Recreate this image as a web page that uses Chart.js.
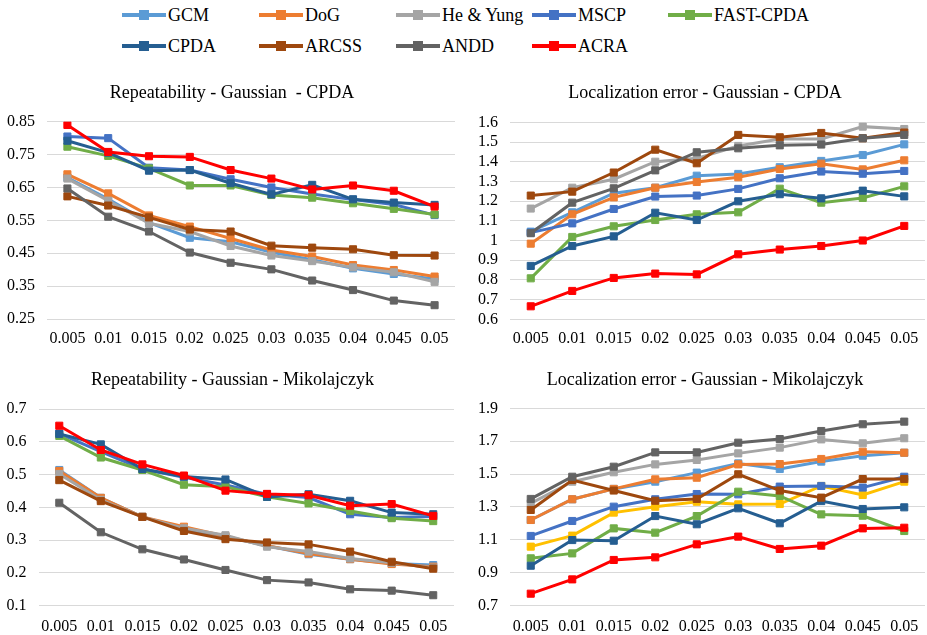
<!DOCTYPE html>
<html>
<head>
<meta charset="utf-8">
<script src="https://cdn.jsdelivr.net/npm/chart.js@4"></script>
<style>
body { margin:0; background:#fff; width:927px; height:635px; position:relative; overflow:hidden;
       font-family:'Liberation Serif','Times New Roman',serif; }
.box { position:absolute; }
#legend { position:absolute; left:0; top:0; width:927px; height:70px; }
.item { position:absolute; font-size:18px; line-height:20px; color:#000; white-space:nowrap; }
.item .ln { position:absolute; left:0; top:8px; width:44px; height:4px; }
.item .mk { position:absolute; left:17px; top:5px; width:10px; height:10px; }
.item .tx { position:absolute; left:46px; top:0; }
</style>
</head>
<body>
<div id="legend"></div>
<!-- the right hand canvases run past the window edge so their titles centre where the reference has them -->
<div class="box" style="left:0;top:75px;width:464px;height:275px"><canvas id="c1"></canvas></div>
<div class="box" style="left:465px;top:75px;width:480px;height:275px"><canvas id="c2"></canvas></div>
<div class="box" style="left:0;top:360px;width:465px;height:275px"><canvas id="c3"></canvas></div>
<div class="box" style="left:465px;top:360px;width:480px;height:275px"><canvas id="c4"></canvas></div>
<script>
var noise = ["0.005", "0.01", "0.015", "0.02", "0.025", "0.03", "0.035", "0.04", "0.045", "0.05"];

var names = ["GCM", "DoG", "He & Yung", "MSCP", "FAST-CPDA", "CPDA", "ARCSS", "ANDD", "ACRA"];
var colors = ["#5B9BD5", "#ED7D31", "#A5A5A5", "#4472C4", "#70AD47", "#255E91", "#9E480E", "#636363", "#FF0000"];

// Repeatability - Gaussian - CPDA
var rep_cpda_gcm   = [0.68, 0.615, 0.543, 0.497, 0.485, 0.453, 0.43, 0.404, 0.387, 0.372];
var rep_cpda_dog   = [0.69, 0.632, 0.565, 0.531, 0.495, 0.46, 0.44, 0.414, 0.399, 0.379];
var rep_cpda_he    = [0.677, 0.61, 0.541, 0.516, 0.472, 0.443, 0.426, 0.407, 0.392, 0.363];
var rep_cpda_mscp  = [0.805, 0.8, 0.71, 0.703, 0.675, 0.65, 0.63, 0.613, 0.598, 0.566];
var rep_cpda_fast  = [0.774, 0.746, 0.708, 0.656, 0.656, 0.627, 0.619, 0.602, 0.585, 0.568];
var rep_cpda_cpda  = [0.792, 0.756, 0.701, 0.703, 0.663, 0.629, 0.658, 0.614, 0.604, 0.597];
var rep_cpda_arcss = [0.623, 0.595, 0.559, 0.522, 0.516, 0.473, 0.467, 0.462, 0.444, 0.443];
var rep_cpda_andd  = [0.647, 0.561, 0.516, 0.452, 0.421, 0.401, 0.367, 0.338, 0.306, 0.292];
var rep_cpda_acra  = [0.84, 0.758, 0.745, 0.743, 0.703, 0.677, 0.644, 0.656, 0.64, 0.592];
var rep_cpda_ticks = [0.25, 0.35, 0.45, 0.55, 0.65, 0.75, 0.85];

// Localization error - Gaussian - CPDA
var loc_cpda_gcm   = [1.045, 1.143, 1.24, 1.268, 1.329, 1.338, 1.372, 1.404, 1.434, 1.488];
var loc_cpda_dog   = [0.984, 1.133, 1.219, 1.268, 1.297, 1.321, 1.363, 1.39, 1.361, 1.407];
var loc_cpda_he    = [1.162, 1.268, 1.311, 1.4, 1.417, 1.48, 1.515, 1.515, 1.578, 1.566];
var loc_cpda_mscp  = [1.04, 1.087, 1.16, 1.223, 1.228, 1.262, 1.316, 1.35, 1.339, 1.353];
var loc_cpda_fast  = [0.808, 1.018, 1.072, 1.104, 1.133, 1.143, 1.263, 1.192, 1.216, 1.275];
var loc_cpda_cpda  = [0.871, 0.972, 1.021, 1.141, 1.104, 1.199, 1.235, 1.214, 1.253, 1.224];
var loc_cpda_arcss = [1.228, 1.248, 1.345, 1.461, 1.392, 1.536, 1.524, 1.546, 1.519, 1.548];
var loc_cpda_andd  = [1.037, 1.192, 1.265, 1.356, 1.448, 1.468, 1.483, 1.487, 1.519, 1.536];
var loc_cpda_acra  = [0.666, 0.744, 0.81, 0.832, 0.828, 0.93, 0.954, 0.972, 1.0, 1.074];
var loc_cpda_ticks = [0.6, 0.7, 0.8, 0.9, 1, 1.1, 1.2, 1.3, 1.4, 1.5, 1.6];

// Repeatability - Gaussian - Mikolajczyk
var rep_miko_gcm   = [0.514, 0.429, 0.371, 0.334, 0.31, 0.283, 0.257, 0.242, 0.229, 0.224];
var rep_miko_dog   = [0.511, 0.429, 0.371, 0.341, 0.312, 0.283, 0.259, 0.242, 0.227, 0.219];
var rep_miko_he    = [0.502, 0.423, 0.371, 0.336, 0.315, 0.28, 0.265, 0.244, 0.231, 0.216];
var rep_miko_mscp  = [0.625, 0.57, 0.517, 0.492, 0.468, 0.44, 0.43, 0.379, 0.369, 0.372];
var rep_miko_fast  = [0.618, 0.552, 0.514, 0.469, 0.463, 0.432, 0.412, 0.389, 0.367, 0.358];
var rep_miko_cpda  = [0.624, 0.592, 0.517, 0.494, 0.485, 0.432, 0.44, 0.42, 0.384, 0.379];
var rep_miko_arcss = [0.483, 0.419, 0.371, 0.328, 0.303, 0.293, 0.287, 0.265, 0.234, 0.213];
var rep_miko_andd  = [0.414, 0.324, 0.272, 0.241, 0.209, 0.178, 0.171, 0.15, 0.146, 0.132];
var rep_miko_acra  = [0.649, 0.575, 0.531, 0.497, 0.451, 0.441, 0.437, 0.405, 0.41, 0.374];
var rep_miko_ticks = [0.1, 0.2, 0.3, 0.4, 0.5, 0.6, 0.7];

// Localization error - Gaussian - Mikolajczyk (has an extra unlabelled yellow series)
var loc_miko_gcm    = [1.221, 1.347, 1.41, 1.454, 1.509, 1.565, 1.531, 1.576, 1.612, 1.63];
var loc_miko_dog    = [1.221, 1.347, 1.41, 1.468, 1.478, 1.559, 1.561, 1.592, 1.636, 1.63];
var loc_miko_he     = [1.322, 1.454, 1.511, 1.559, 1.586, 1.626, 1.661, 1.711, 1.687, 1.718];
var loc_miko_yellow = [1.059, 1.126, 1.266, 1.302, 1.332, 1.316, 1.318, 1.428, 1.373, 1.454];
var loc_miko_mscp   = [1.124, 1.215, 1.302, 1.347, 1.379, 1.377, 1.424, 1.428, 1.418, 1.484];
var loc_miko_fast   = [0.988, 1.018, 1.17, 1.144, 1.245, 1.393, 1.367, 1.255, 1.247, 1.154];
var loc_miko_cpda   = [0.943, 1.099, 1.095, 1.245, 1.195, 1.292, 1.201, 1.336, 1.288, 1.298];
var loc_miko_arcss  = [1.282, 1.464, 1.4, 1.338, 1.349, 1.499, 1.4, 1.357, 1.47, 1.47];
var loc_miko_andd   = [1.349, 1.484, 1.545, 1.632, 1.632, 1.691, 1.713, 1.762, 1.803, 1.819];
var loc_miko_acra   = [0.773, 0.86, 0.978, 0.994, 1.073, 1.12, 1.045, 1.065, 1.17, 1.174];
var loc_miko_ticks  = [0.7, 0.9, 1.1, 1.3, 1.5, 1.7, 1.9];

Chart.defaults.font.family = "'Liberation Serif', 'Times New Roman', serif";
Chart.defaults.color = "#000";

function makeSet(label, color, data, order) {
    return {
        label: label,
        data: data,
        borderColor: color,
        backgroundColor: color,
        borderWidth: 3,
        pointStyle: 'rect',
        pointRadius: 5,
        pointBorderWidth: 1,
        order: order
    };
}

function makeChart(id, title, sets, ticks, box) {
    var n = sets.length;
    var datasets = [];
    for (var i = 0; i < n; i++) {
        // excel draws the later series on top
        datasets.push(makeSet(sets[i][0], sets[i][1], sets[i][2], n - i));
    }
    return new Chart(document.getElementById(id), {
        type: 'line',
        data: { labels: noise, datasets: datasets },
        options: {
            responsive: true,
            maintainAspectRatio: false,
            animation: false,
            layout: { padding: 0 },
            plugins: {
                legend: { display: false },
                tooltip: { enabled: false },
                title: {
                    display: true,
                    text: title,
                    font: { size: 18, weight: 'normal' },
                    padding: { top: box.titleTop, bottom: box.titleBottom }
                }
            },
            scales: {
                x: {
                    type: 'category',
                    offset: true,
                    grid: { display: false },
                    border: { display: false },
                    ticks: { font: { size: 16 }, padding: box.xPad, maxRotation: 0, autoSkip: false },
                    afterFit: function(scale) { scale.height = box.xH; }
                },
                y: {
                    min: ticks[0],
                    max: ticks[ticks.length - 1],
                    grid: { color: '#d9d9d9', lineWidth: 1, drawTicks: false },
                    border: { display: false },
                    ticks: {
                        font: { size: 16 },
                        padding: 12,
                        autoSkip: false,
                        callback: function(v) { return String(+(+v).toFixed(2)); }
                    },
                    afterBuildTicks: function(scale) {
                        scale.ticks = ticks.map(function(v) { return { value: v }; });
                    },
                    afterFit: function(scale) { scale.width = box.yW; }
                },
                // empty right axis, only keeps the plot clear of the right edge
                // while the title still centres on the whole canvas
                gap: {
                    position: 'right',
                    grid: { display: false },
                    border: { display: false },
                    ticks: { display: false },
                    afterFit: function(scale) { scale.width = box.padR; }
                }
            }
        }
    });
}

function buildLegend() {
    var leg = document.getElementById('legend');
    var cols = [122, 259, 396, 532, 668];
    for (var i = 0; i < names.length; i++) {
        var row = Math.floor(i / 5), col = i % 5;
        var d = document.createElement('div');
        d.className = 'item';
        d.style.left = cols[col] + 'px';
        d.style.top = (5 + row * 31) + 'px';
        d.innerHTML = '<span class="ln" style="background:' + colors[i] + '"></span>' +
                      '<span class="mk" style="background:' + colors[i] + '"></span>' +
                      '<span class="tx">' + names[i] + '</span>';
        leg.appendChild(d);
    }
}

function pageLoad() {
    buildLegend();

    makeChart('c1', 'Repeatability - Gaussian  - CPDA', [
        [names[0], colors[0], rep_cpda_gcm], [names[1], colors[1], rep_cpda_dog],
        [names[2], colors[2], rep_cpda_he], [names[3], colors[3], rep_cpda_mscp],
        [names[4], colors[4], rep_cpda_fast], [names[5], colors[5], rep_cpda_cpda],
        [names[6], colors[6], rep_cpda_arcss], [names[7], colors[7], rep_cpda_andd],
        [names[8], colors[8], rep_cpda_acra]
    ], rep_cpda_ticks, { padR: 9, yW: 47, titleTop: 7.2, titleBottom: 17.9, xH: 31, xPad: 2 });

    makeChart('c2', 'Localization error - Gaussian - CPDA', [
        [names[0], colors[0], loc_cpda_gcm], [names[1], colors[1], loc_cpda_dog],
        [names[2], colors[2], loc_cpda_he], [names[3], colors[3], loc_cpda_mscp],
        [names[4], colors[4], loc_cpda_fast], [names[5], colors[5], loc_cpda_cpda],
        [names[6], colors[6], loc_cpda_arcss], [names[7], colors[7], loc_cpda_andd],
        [names[8], colors[8], loc_cpda_acra]
    ], loc_cpda_ticks, { padR: 20, yW: 45, titleTop: 7.2, titleBottom: 18.5, xH: 30.7, xPad: 2 });

    makeChart('c3', 'Repeatability - Gaussian - Mikolajczyk', [
        [names[0], colors[0], rep_miko_gcm], [names[1], colors[1], rep_miko_dog],
        [names[2], colors[2], rep_miko_he], [names[3], colors[3], rep_miko_mscp],
        [names[4], colors[4], rep_miko_fast], [names[5], colors[5], rep_miko_cpda],
        [names[6], colors[6], rep_miko_arcss], [names[7], colors[7], rep_miko_andd],
        [names[8], colors[8], rep_miko_acra]
    ], rep_miko_ticks, { padR: 11, yW: 38.5, titleTop: 9.2, titleBottom: 18.2, xH: 29.3, xPad: 3 });

    makeChart('c4', 'Localization error - Gaussian - Mikolajczyk', [
        [names[0], colors[0], loc_miko_gcm], [names[1], colors[1], loc_miko_dog],
        [names[2], colors[2], loc_miko_he], ['', '#FFC000', loc_miko_yellow],
        [names[3], colors[3], loc_miko_mscp], [names[4], colors[4], loc_miko_fast],
        [names[5], colors[5], loc_miko_cpda], [names[6], colors[6], loc_miko_arcss],
        [names[7], colors[7], loc_miko_andd], [names[8], colors[8], loc_miko_acra]
    ], loc_miko_ticks, { padR: 20, yW: 45, titleTop: 9.2, titleBottom: 17.5, xH: 29.3, xPad: 3 });
}

window.onload = pageLoad;
</script>
</body>
</html>
